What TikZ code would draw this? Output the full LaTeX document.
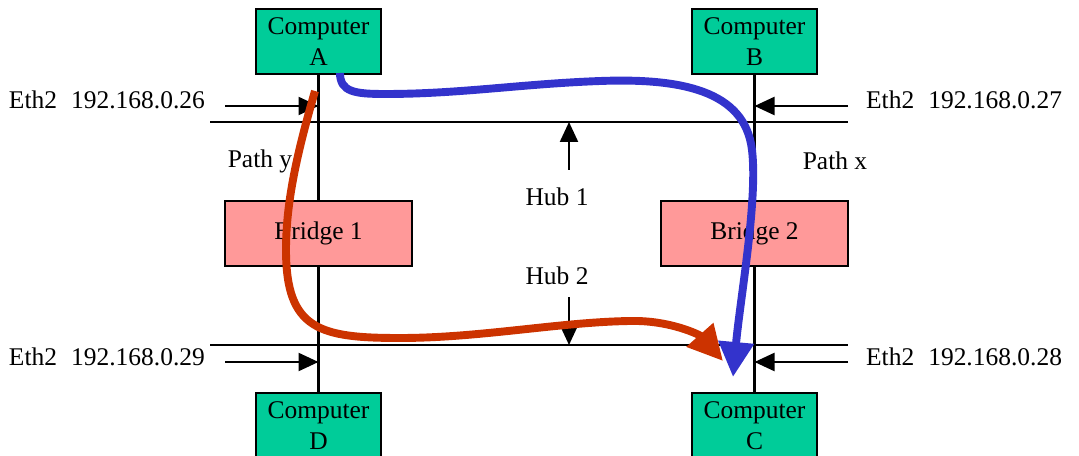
\documentclass[tikz,border=0pt]{standalone}
\usepackage{fontspec}
\setmainfont{Liberation Serif}
\usetikzlibrary{arrows.meta}
\definecolor{cgreen}{HTML}{00CC99}
\definecolor{cpink}{HTML}{FF9999}
\definecolor{cblue}{HTML}{3333CC}
\definecolor{cred}{HTML}{CC3300}
\tikzset{
  every picture/.style={font=\fontsize{14.5pt}{17.5pt}\selectfont, line width=1.3pt},
  box/.style={draw=black, fill=#1, align=center, inner sep=0pt, minimum width=2.5cm, minimum height=1.3cm},
  box/.default=cgreen,
  lan/.style={draw=black},
  tap/.style={-{Triangle[length=0.4cm, width=0.36cm]}, draw=black},
  route/.style={-{Triangle[length=0.7cm, width=0.68cm]}, draw=#1, line width=4.5pt},
  lbl/.style={inner sep=0pt},
}

\begin{document}
\begin{tikzpicture}[x=0.02cm, y=-0.02cm]
  \useasboundingbox (0,0) rectangle (1079,456);
  % computers and bridges
  \node[box] (compA) at (318.5,41.5) {Computer\\A};
  \node[box] (compB) at (754.5,41.5) {Computer\\B};
  \node[box] (compD) at (318.5,425.5) {Computer\\D};
  \node[box] (compC) at (754.5,425.5) {Computer\\C};
  \node[box=cpink, minimum width=3.74cm] (bridge1) at (318.5,233.5) {Bridge 1};
  \node[box=cpink, minimum width=3.74cm] (bridge2) at (754.5,233.5) {Bridge 2};

  % hubs
  \coordinate (hub1w) at (210,122);
  \coordinate (hub1e) at (848,122);
  \coordinate (hub2w) at (210,345);
  \coordinate (hub2e) at (848,345);
  \draw[lan] (hub1w) -- (hub1e);
  \draw[lan] (hub2w) -- (hub2e);
  \draw[lan] (compA) -- (bridge1);
  \draw[lan] (bridge1) -- (compD);
  \draw[lan] (compB) -- (bridge2);
  \draw[lan] (bridge2) -- (compC);

  \node (hub1) at (557,197) {Hub 1};
  \node (hub2) at (557,276) {Hub 2};
  \coordinate (hub1tap) at (569,170);
  \coordinate (hub2tap) at (569,297);
  \draw[tap] (hub1tap) -- (hub1tap |- hub1w);
  \draw[tap] (hub2tap) -- (hub2tap |- hub2w);

  % interfaces
  \node[lbl, anchor=east] (eth26) at (206,100) {Eth2\hspace{0.55em}192.168.0.26};
  \node[lbl, anchor=west] (eth27) at (865,100) {Eth2\hspace{0.55em}192.168.0.27};
  \node[lbl, anchor=east] (eth29) at (206,357) {Eth2\hspace{0.55em}192.168.0.29};
  \node[lbl, anchor=west] (eth28) at (865,357) {Eth2\hspace{0.55em}192.168.0.28};
  \coordinate (tap26) at (225,106);
  \coordinate (tap27) at (848,106);
  \coordinate (tap29) at (225,362);
  \coordinate (tap28) at (848,362);
  \draw[tap] (tap26) -- (tap26 -| compA);
  \draw[tap] (tap27) -- (tap27 -| compB);
  \draw[tap] (tap29) -- (tap29 -| compD);
  \draw[tap] (tap28) -- (tap28 -| compC);

  \node (pathy) at (260,161) {Path y};
  \node (pathx) at (835,161) {Path x};

  % the two routes
  \coordinate (redS) at (315,91);
  \coordinate (redE) at (723,361);
  \coordinate (blueS) at (340,73);
  \coordinate (blueE) at (733,377);
  \draw[route=cred] (redS) .. controls (298,150) and (286,200) .. (286,250)
    .. controls (286,330) and (320,338) .. (400,338)
    .. controls (480,338) and (560,322) .. (630,321)
    .. controls (670,320) and (700,335) .. (redE);
  \draw[route=cblue] (blueS) .. controls (340,92) and (355,94) .. (385,94)
    .. controls (460,94) and (520,84) .. (600,81)
    .. controls (680,78) and (745,90) .. (752,150)
    .. controls (758,200) and (740,300) .. (blueE);
\end{tikzpicture}
\end{document}
